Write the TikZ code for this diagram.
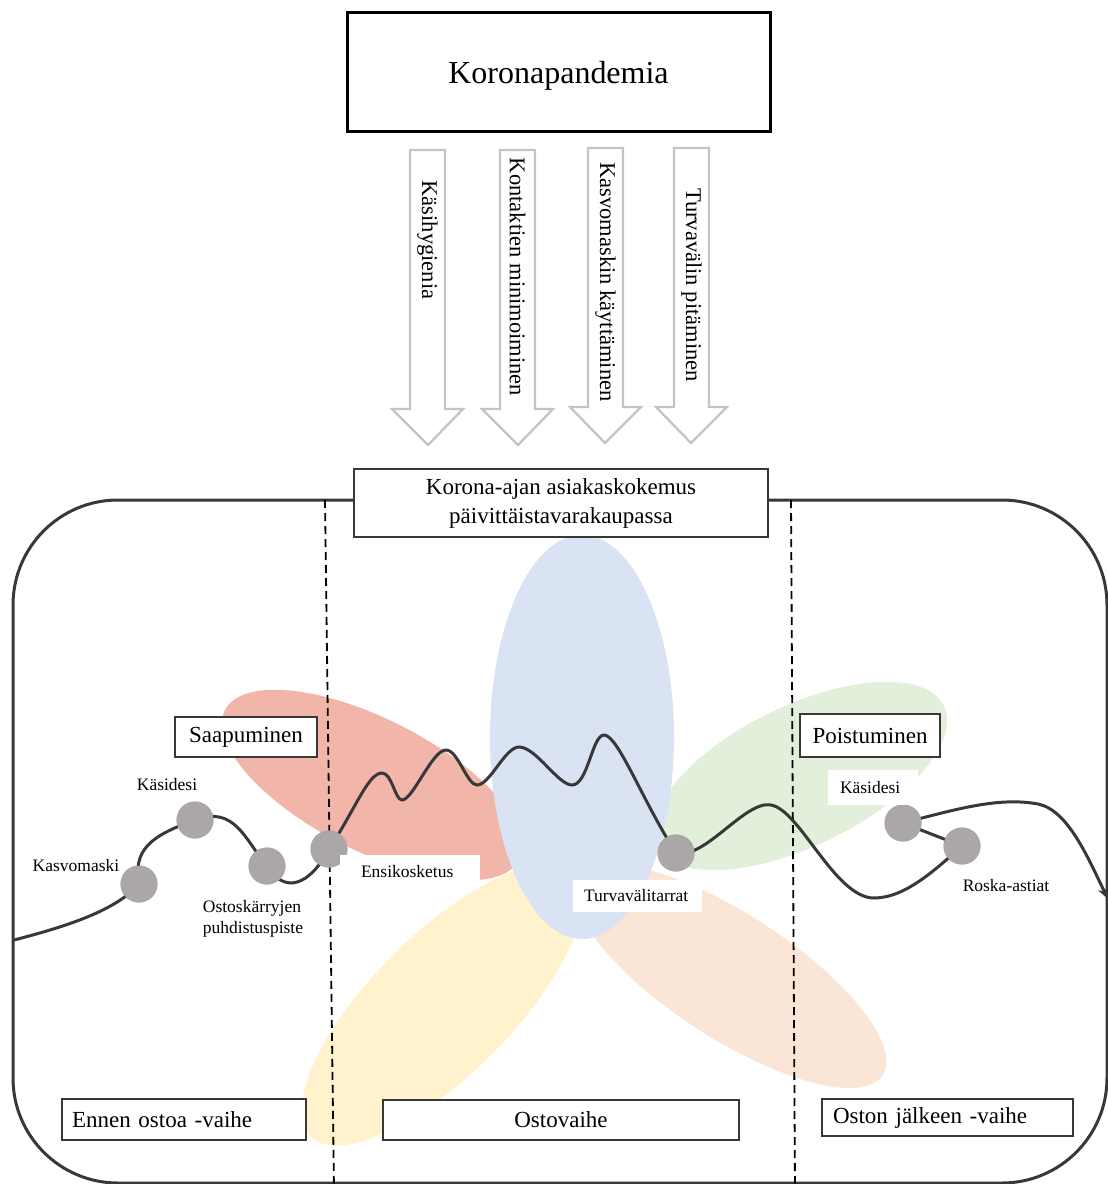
\documentclass[tikz,border=0pt]{standalone}
\usepackage{fontspec}
\setmainfont{Liberation Serif}
\usetikzlibrary{arrows.meta}
\definecolor{petalred}{HTML}{F2B5AA}
\definecolor{petalblue}{HTML}{DAE3F3}
\definecolor{petalgreen}{HTML}{E2EFDA}
\definecolor{petalyellow}{HTML}{FFF2CC}
\definecolor{petalpeach}{HTML}{FBE5D6}
\definecolor{dotgray}{RGB}{171,167,167}
\definecolor{linedark}{HTML}{383838}
\definecolor{arrowgray}{HTML}{C4C4C4}
\begin{document}
\begin{tikzpicture}[x=1pt,y=-1pt,
  topbox/.style={draw=black, line width=3pt, fill=white, minimum width=423pt, minimum height=119pt, inner sep=0pt, text height=31pt, text depth=7pt, font=\fontsize{32}{38}\selectfont},
  frame/.style={draw=linedark, line width=1.3pt, fill=white, inner sep=0pt, font=\fontsize{23}{29}\selectfont},
  whitelabel/.style={fill=white, inner ysep=0pt, align=left, font=\fontsize{17.5}{21}\selectfont},
  smalllabel/.style={inner sep=0pt, align=left, font=\fontsize{17.5}{21}\selectfont},
  arrowtext/.style={rotate=-90, inner sep=0pt, font=\fontsize{22.5}{27}\selectfont},
  blockarrow/.style={draw=arrowgray, line width=2.3pt, fill=white, line join=miter},
  touch/.style={circle, fill=dotgray, minimum size=37pt, inner sep=0pt},
  journey/.style={draw=linedark, line width=3pt, line cap=round},
  phase/.style={draw=black, line width=1.8pt, dash pattern=on 8pt off 5pt}]
\useasboundingbox (0,0) rectangle (1108,1184);
\begin{scope}
\clip (0,0) rectangle (1108,1184);

% petals
\fill[petalyellow, rotate around={45:(442,1005)}] (442,1005) ellipse [x radius=186pt, y radius=70pt];
\fill[petalpeach, rotate around={-33:(730,976)}] (730,976) ellipse [x radius=182pt, y radius=62pt];
\fill[petalred, rotate around={-27:(372,785)}] (372,785) ellipse [x radius=165pt, y radius=66pt];
\fill[petalgreen, rotate around={26:(800,776)}] (800,776) ellipse [x radius=160pt, y radius=70pt];
\fill[petalblue] (582,737) ellipse [x radius=92pt, y radius=202pt];

% outer frame
\draw[draw=linedark, line width=3pt, rounded corners=105pt] (13,500) rectangle (1107,1183);

% phase separators
\coordinate (d1top) at (325,500);
\coordinate (d1bot) at (334,1190);
\coordinate (d2top) at (791,500);
\coordinate (d2bot) at (795,1190);
\draw[phase] (d1top) -- (d1bot);
\draw[phase] (d2top) -- (d2bot);

% touchpoints
\coordinate (start) at (14,940);
\coordinate (finish) at (1108,899);
\node[touch] (kasvo) at (139,884) {};
\node[touch] (kasi1) at (195,820) {};
\node[touch] (ostos) at (267,866) {};
\node[touch] (ensi) at (329,849) {};
\node[touch] (turva) at (676,853) {};
\node[touch] (kasi2) at (903,823) {};
\node[touch] (roska) at (962,846) {};

% journey line
\draw[journey] (start) .. controls (60,928) and (115,912) .. (kasvo.center);
\draw[journey] (kasvo.center) .. controls (133,850) and (150,836) .. (kasi1.center);
\draw[journey] (kasi1.center) .. controls (235,805) and (245,840) .. (ostos.center);
\draw[journey] (ostos.center) .. controls (285,895) and (310,885) .. (ensi.center);
\draw[journey] (ensi.center) .. controls (355,810) and (368,773) .. (382,773)
  .. controls (392,773) and (395,800) .. (402,800)
  .. controls (413,800) and (432,750) .. (446,750)
  .. controls (458,750) and (467,785) .. (477,785)
  .. controls (490,785) and (505,747) .. (519,747)
  .. controls (536,747) and (558,785) .. (572,785)
  .. controls (588,785) and (592,735) .. (604,735)
  .. controls (618,735) and (642,800) .. (turva.center);
\draw[journey] (turva.center) .. controls (705,860) and (745,800) .. (771,805)
  .. controls (800,810) and (835,898) .. (874,898)
  .. controls (905,898) and (935,870) .. (roska.center);
\draw[journey] (kasi2.center) -- (roska.center);
\draw[journey, -{Stealth[length=12pt, width=10pt]}] (kasi2.center) .. controls (960,808) and (1000,797) .. (1038,804)
  .. controls (1068,810) and (1088,858) .. (finish);

% touchpoints on top of the line
\foreach \n in {kasvo, kasi1, ostos, ensi, turva, kasi2, roska}
  \fill[dotgray] (\n.center) circle (18.5pt);

% touchpoint labels
\node[smalllabel] (lkasvo) at (76,866) {Kasvomaski};
\node[smalllabel] (lkasi1) at (167,785) {Käsidesi};
\node[smalllabel] (lostos) at (253,919) {Ostoskärryjen\\puhdistuspiste};
\node[whitelabel, inner xsep=21pt, text width=98pt, minimum height=33pt] (lensi) at (410,871.5) {Ensikosketus};
\node[whitelabel, inner xsep=11pt, text width=107pt, minimum height=32pt] (lturva) at (637.5,896) {Turvavälitarrat};
\node[whitelabel, inner xsep=12pt, text width=66pt, minimum height=35pt] (lkasi2) at (873,787.5) {Käsidesi};
\node[smalllabel] (lroska) at (1006,886) {Roska-astiat};

% stage boxes
\node[frame, minimum width=142pt, minimum height=40pt] (saap) at (246,737) {Saapuminen};
\node[frame, minimum width=140pt, minimum height=43pt] (poist) at (870,735.5) {Poistuminen};
\node[frame, minimum height=41pt, inner xsep=10pt, text width=224pt, align=left] (ennen) at (184,1119.5) {Ennen ostoa -vaihe};
\node[frame, minimum width=356pt, minimum height=40pt] (osto) at (561,1120) {Ostovaihe};
\node[frame, minimum height=37pt, inner xsep=11pt, text width=229pt, align=left] (jalkeen) at (947.5,1117.5) {Oston jälkeen -vaihe};

% experience box
\node[frame, minimum width=414pt, minimum height=68pt, align=center] (koke) at (561,503) {Korona-ajan asiakaskokemus\\päivittäistavarakaupassa};

% pandemic box
\node[topbox] (pandemia) at (558.5,71.5) {Koronapandemia};

% block arrows
\draw[blockarrow] (410,150) -- (445,150) -- (445,409) -- (463,409) -- (428,445) -- (392,409) -- (410,409) -- cycle;
\draw[blockarrow] (500,150) -- (535,150) -- (535,409) -- (553,409) -- (518,445) -- (482,409) -- (500,409) -- cycle;
\draw[blockarrow] (588,148) -- (623,148) -- (623,407) -- (641,407) -- (605,443) -- (570,407) -- (588,407) -- cycle;
\draw[blockarrow] (674,148) -- (709,148) -- (709,407) -- (727,407) -- (691,443) -- (656,407) -- (674,407) -- cycle;
\node[arrowtext] (a1) at (427.5,240) {Käsihygienia};
\node[arrowtext] (a2) at (517.5,277) {Kontaktien minimoiminen};
\node[arrowtext] (a3) at (605.5,282) {Kasvomaskin käyttäminen};
\node[arrowtext] (a4) at (691.5,285) {Turvavälin pitäminen};
\end{scope}
\end{tikzpicture}
\end{document}
